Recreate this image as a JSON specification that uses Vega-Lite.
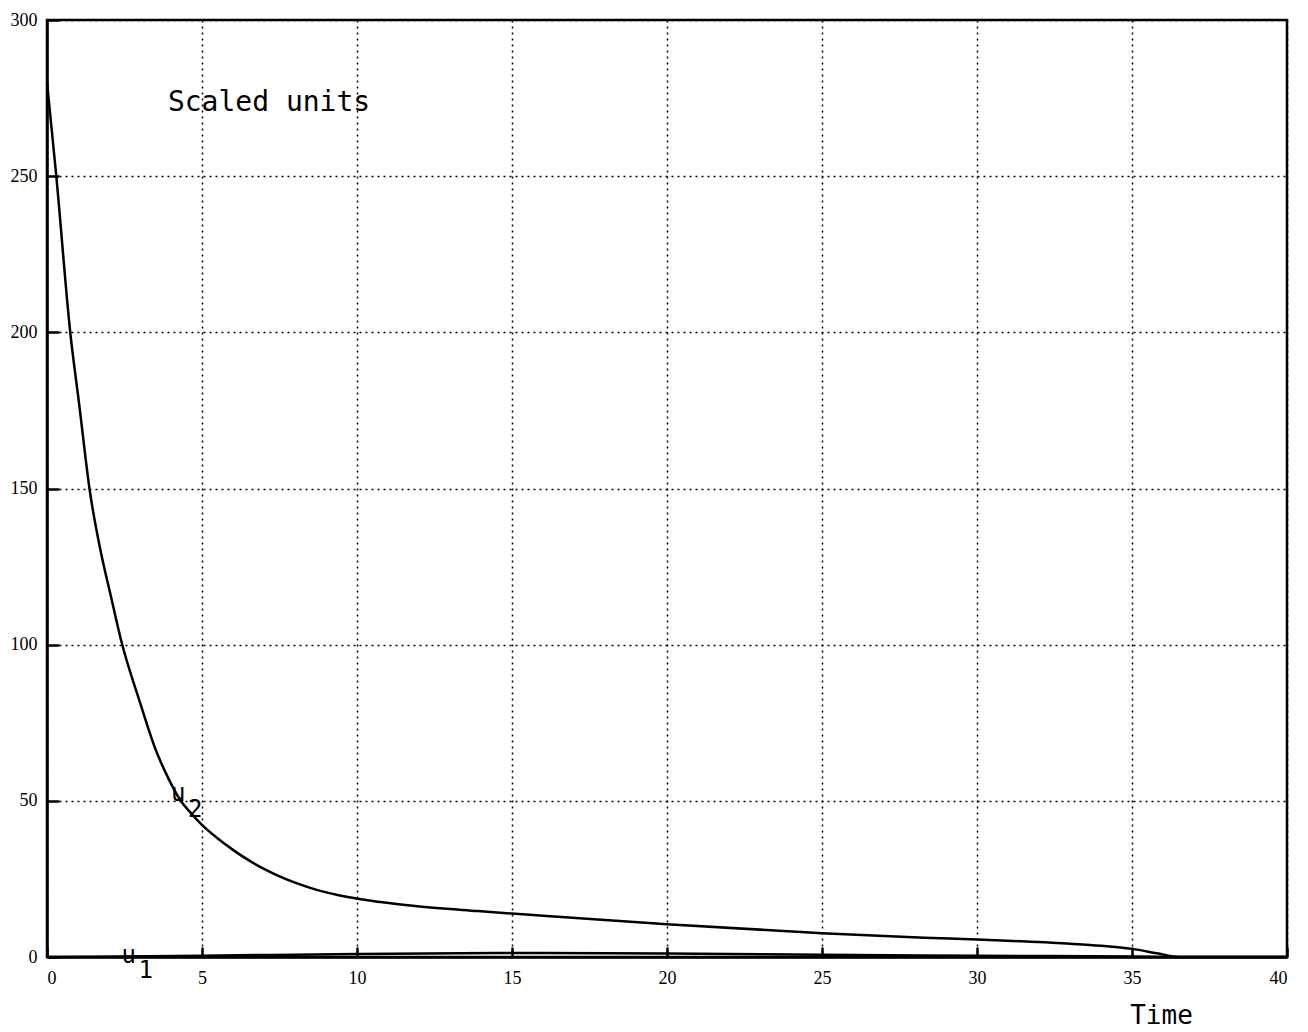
{
  "$schema": "https://vega.github.io/schema/vega-lite/v6.json",
  "autosize": {"type": "none"},
  "width": 1240,
  "height": 937,
  "padding": {"left": 47, "top": 20, "right": 21, "bottom": 75},
  "background": "white",
  "config": {
    "view": {"stroke": "black", "strokeWidth": 2.5},
    "axis": {
      "domainColor": "black",
      "domainWidth": 2.5,
      "gridColor": "black",
      "gridDash": [2, 4],
      "gridWidth": 1.5,
      "gridOpacity": 1,
      "tickColor": "black",
      "tickWidth": 2.5,
      "labelColor": "black",
      "labelFont": "Liberation Serif",
      "labelFontSize": 18,
      "titleColor": "black",
      "titleFont": "DejaVu Sans Mono",
      "titleFontWeight": "normal"
    }
  },
  "datasets": {
    "curves": [
      {"t": 0, "v": 280, "s": "u2"},
      {"t": 0.3, "v": 250, "s": "u2"},
      {"t": 0.75, "v": 200, "s": "u2"},
      {"t": 1.05, "v": 176, "s": "u2"},
      {"t": 1.37, "v": 150, "s": "u2"},
      {"t": 1.75, "v": 129, "s": "u2"},
      {"t": 2.05, "v": 116, "s": "u2"},
      {"t": 2.4, "v": 101, "s": "u2"},
      {"t": 3.0, "v": 81.5, "s": "u2"},
      {"t": 3.5, "v": 66.5, "s": "u2"},
      {"t": 3.9, "v": 57.5, "s": "u2"},
      {"t": 4.28, "v": 50.5, "s": "u2"},
      {"t": 4.65, "v": 46, "s": "u2"},
      {"t": 5.0, "v": 42.3, "s": "u2"},
      {"t": 5.5, "v": 38.0, "s": "u2"},
      {"t": 6.0, "v": 34.3, "s": "u2"},
      {"t": 6.5, "v": 31.0, "s": "u2"},
      {"t": 7.0, "v": 28.2, "s": "u2"},
      {"t": 7.5, "v": 25.8, "s": "u2"},
      {"t": 8.0, "v": 23.8, "s": "u2"},
      {"t": 8.7, "v": 21.5, "s": "u2"},
      {"t": 9.7, "v": 19.2, "s": "u2"},
      {"t": 10.75, "v": 17.6, "s": "u2"},
      {"t": 11.8, "v": 16.4, "s": "u2"},
      {"t": 13.9, "v": 14.7, "s": "u2"},
      {"t": 16, "v": 13.2, "s": "u2"},
      {"t": 20, "v": 10.5, "s": "u2"},
      {"t": 25, "v": 7.6, "s": "u2"},
      {"t": 28.3, "v": 6.2, "s": "u2"},
      {"t": 30, "v": 5.6, "s": "u2"},
      {"t": 32.9, "v": 4.3, "s": "u2"},
      {"t": 34, "v": 3.6, "s": "u2"},
      {"t": 35, "v": 2.6, "s": "u2"},
      {"t": 35.8, "v": 1.2, "s": "u2"},
      {"t": 36.5, "v": 0, "s": "u2"},
      {"t": 40, "v": 0, "s": "u2"},
      {"t": 0, "v": 0, "s": "u1"},
      {"t": 5, "v": 0.4, "s": "u1"},
      {"t": 10, "v": 1.0, "s": "u1"},
      {"t": 15, "v": 1.3, "s": "u1"},
      {"t": 20, "v": 1.1, "s": "u1"},
      {"t": 25, "v": 0.7, "s": "u1"},
      {"t": 30, "v": 0.4, "s": "u1"},
      {"t": 35, "v": 0.2, "s": "u1"},
      {"t": 36.5, "v": 0, "s": "u1"},
      {"t": 40, "v": 0, "s": "u1"}
    ],
    "notes": [
      {"t": 3.9, "v": 273.5, "label": "Scaled units", "size": 28},
      {"t": 4.0, "v": 52.3, "label": "u", "size": 24},
      {"t": 4.55, "v": 47.2, "label": "2", "size": 24},
      {"t": 2.4, "v": 0.4, "label": "u", "size": 24},
      {"t": 2.95, "v": -4.6, "label": "1", "size": 24}
    ]
  },
  "layer": [
    {
      "data": {"name": "curves"},
      "mark": {"type": "line", "color": "black", "strokeWidth": 2.5, "interpolate": "monotone", "clip": false},
      "encoding": {
        "x": {
          "field": "t",
          "type": "quantitative",
          "scale": {"domain": [0, 40], "nice": false},
          "axis": {
            "values": [0, 5, 10, 15, 20, 25, 30, 35, 40],
            "grid": true,
            "tickSize": -10,
            "labelPadding": 22,
            "title": "Time",
            "titleFontSize": 26,
            "titleX": 1114,
            "titleY": 58,
            "titleAlign": "center",
            "titleBaseline": "middle"
          }
        },
        "y": {
          "field": "v",
          "type": "quantitative",
          "scale": {"domain": [0, 300], "nice": false},
          "axis": {
            "values": [0, 50, 100, 150, 200, 250, 300],
            "grid": true,
            "tickSize": -12,
            "labelPadding": 22,
            "title": null
          }
        },
        "detail": {"field": "s", "type": "nominal"}
      }
    },
    {
      "data": {"name": "notes"},
      "mark": {"type": "text", "font": "DejaVu Sans Mono", "color": "black", "align": "left", "baseline": "middle", "clip": false},
      "encoding": {
        "x": {"field": "t", "type": "quantitative"},
        "y": {"field": "v", "type": "quantitative"},
        "text": {"field": "label", "type": "nominal"},
        "size": {"field": "size", "type": "quantitative", "scale": null, "legend": null}
      }
    }
  ]
}
